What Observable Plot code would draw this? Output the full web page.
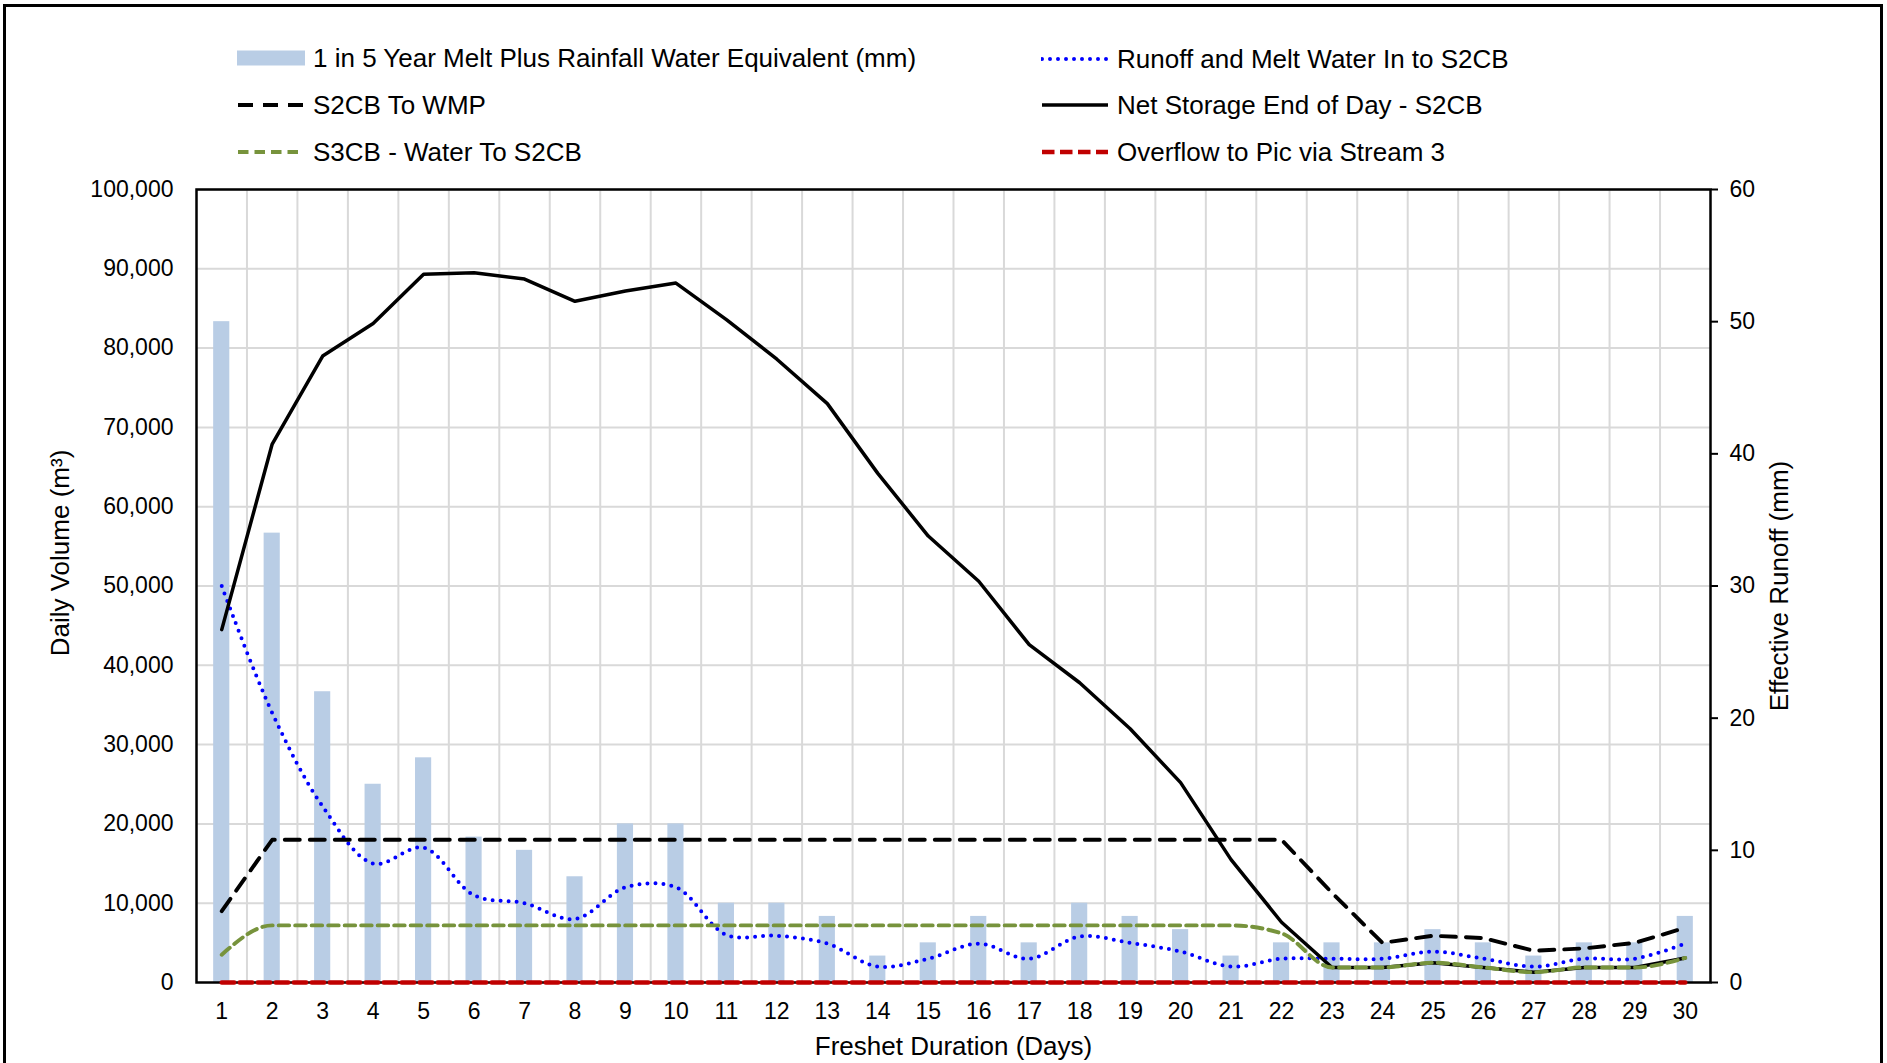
<!DOCTYPE html>
<html>
<head>
<meta charset="utf-8">
<script src="https://cdn.jsdelivr.net/npm/d3@7"></script>
<script src="https://cdn.jsdelivr.net/npm/@observablehq/plot@0.6"></script>
<style>
  body { margin: 0; background: #fff; font-family: "Liberation Sans", Arial, sans-serif; }
  #page { position: relative; width: 1887px; height: 1063px; overflow: hidden; background: #fff; }
  #chart { position: absolute; left: 0; top: 170px; }
  #legend { position: absolute; left: 0; top: 0; width: 1887px; height: 170px; }
  .item { position: absolute; height: 30px; display: flex; align-items: center; font-size: 26px; color: #000; white-space: nowrap; }
  .item svg { display: block; margin-right: 8px; }
  #border { position: absolute; left: 3px; top: 4px; width: 1874px; height: 1100px; border: 3px solid #000; pointer-events: none; }
</style>
</head>
<body>
<div id="page">
  <div id="chart"></div>
  <div id="legend"></div>
  <div id="border"></div>
</div>
<script>
// ---- Data ----
const days = [1,2,3,4,5,6,7,8,9,10,11,12,13,14,15,16,17,18,19,20,21,22,23,24,25,26,27,28,29,30];

// 1 in 5 Year Melt Plus Rainfall Water Equivalent (mm) - right axis
const meltMm = [50,34,22,15,17,11,10,8,12,12,6,6,5,2,3,5,3,6,5,4,2,3,3,3,4,3,2,3,3,5];

// Runoff and Melt Water In to S2CB (m3)
const runoffIn = [50000,34000,22200,15000,17000,11000,10000,8000,12000,12000,6000,5900,4900,2000,3000,4900,3000,5800,5000,3900,2000,3000,3000,3000,3900,3000,2000,3000,3000,4900];

// S2CB To WMP (m3)
const s2cbToWmp = [9000,18000,18000,18000,18000,18000,18000,18000,18000,18000,18000,18000,18000,18000,18000,18000,18000,18000,18000,18000,18000,18000,11300,5000,5900,5600,4000,4300,5000,6900];

// Net Storage End of Day - S2CB (m3)
const netStorage = [44500,67900,79000,83100,89300,89500,88700,85900,87200,88200,83600,78600,73000,64200,56300,50600,42600,37800,32000,25200,15500,7600,1900,1900,2500,1900,1300,1900,1900,3100];

// S3CB - Water To S2CB (m3)
const s3cbToS2cb = [3500,7200,7200,7200,7200,7200,7200,7200,7200,7200,7200,7200,7200,7200,7200,7200,7200,7200,7200,7200,7200,6200,1900,1900,2500,1900,1300,1900,1900,3100];

// Overflow to Pic via Stream 3 (m3)
const overflow = [0,0,0,0,0,0,0,0,0,0,0,0,0,0,0,0,0,0,0,0,0,0,0,0,0,0,0,0,0,0];

const leftTicks = [0,10000,20000,30000,40000,50000,60000,70000,80000,90000,100000];
const rightTicks = [0,10,20,30,40,50,60];

const seriesNames = [
  "1 in 5 Year Melt Plus Rainfall Water Equivalent (mm)",
  "Runoff and Melt Water In to S2CB",
  "S2CB To WMP",
  "Net Storage End of Day - S2CB",
  "S3CB - Water To S2CB",
  "Overflow to Pic via Stream 3"
];
const yLabelLeft = "Daily Volume (m³)";
const yLabelRight = "Effective Runoff (mm)";
const xLabel = "Freshet Duration (Days)";

// ---- Build table ----
const K = leftTicks[leftTicks.length - 1] / rightTicks[rightTicks.length - 1]; // mm -> m3 axis factor
const rows = days.map((d, i) => ({
  day: d, melt: meltMm[i], runoff: runoffIn[i], toWmp: s2cbToWmp[i],
  storage: netStorage[i], s3cb: s3cbToS2cb[i], overflow: overflow[i]
}));

// ---- Styles ----
const S = {
  bar: {fill: "#B9CDE5"},
  runoff: {stroke: "#0000FF", strokeWidth: 4, strokeDasharray: "0,8", strokeLinecap: "round", curve: "catmull-rom"},
  toWmp: {stroke: "#000000", strokeWidth: 3.9, strokeDasharray: "15,10"},
  storage: {stroke: "#000000", strokeWidth: 3.5},
  s3cb: {stroke: "#77933C", strokeWidth: 3.9, strokeDasharray: "10.5,6", curve: "monotone-x"},
  overflow: {stroke: "#C00000", strokeWidth: 4.5, strokeDasharray: "12.5,5.5"}
};

const W = 1887, H = 893, mL = 196, mR = 177, mT = 19, mB = 81;
const step = (W - mL - mR) / days.length;

const chart = Plot.plot({
  width: W, height: H,
  marginLeft: mL, marginRight: mR, marginTop: mT, marginBottom: mB,
  style: {fontFamily: '"Liberation Sans", Arial, sans-serif', fontSize: "23px", color: "#000", background: "transparent", overflow: "visible"},
  x: {type: "band", domain: days, paddingInner: 0.68, paddingOuter: 0.34, align: 0.5, round: false},
  y: {domain: [leftTicks[0], leftTicks[leftTicks.length - 1]]},
  marks: [
    Plot.ruleY(leftTicks.slice(1), {stroke: "#D9D9D9", strokeWidth: 2}),
    Plot.ruleX(days.slice(0, -1), {dx: step / 2, stroke: "#D9D9D9", strokeWidth: 2}),
    Plot.barY(rows, {x: "day", y: d => d.melt * K, ...S.bar}),
    Plot.frame({stroke: "#000", strokeWidth: 2.5}),
    Plot.line(rows, {x: "day", y: "runoff", ...S.runoff}),
    Plot.line(rows, {x: "day", y: "toWmp", ...S.toWmp}),
    Plot.line(rows, {x: "day", y: "storage", ...S.storage}),
    Plot.line(rows, {x: "day", y: "s3cb", ...S.s3cb}),
    Plot.line(rows, {x: "day", y: "overflow", ...S.overflow}),
    Plot.axisX({tickSize: 0, tickPadding: 20, label: null}),
    Plot.axisY({anchor: "left", ticks: leftTicks, tickSize: 0, tickPadding: 23, tickFormat: d3.format(","), label: null}),
    Plot.axisY({anchor: "right", ticks: rightTicks.map(v => v * K), tickSize: 7, tickPadding: 12,
                tickFormat: d => String(Math.round(d / K)), label: null, stroke: "#000", strokeWidth: 2}),
    Plot.text([yLabelLeft], {frameAnchor: "left", dx: -136, dy: -33, rotate: -90, fontSize: 26, textAnchor: "middle", lineAnchor: "middle"}),
    Plot.text([yLabelRight], {frameAnchor: "right", dx: 69, rotate: -90, fontSize: 26, textAnchor: "middle", lineAnchor: "middle"}),
    Plot.text([xLabel], {frameAnchor: "bottom", dy: 64, fontSize: 26, textAnchor: "middle", lineAnchor: "middle"})
  ]
});
document.getElementById("chart").appendChild(chart);

// ---- Legend ----
const legendItems = [
  {name: seriesNames[0], kind: "bar", style: S.bar, left: 237, cy: 58},
  {name: seriesNames[1], kind: "line", style: S.runoff, left: 1041, cy: 59},
  {name: seriesNames[2], kind: "line", style: S.toWmp, left: 237, cy: 105},
  {name: seriesNames[3], kind: "line", style: S.storage, left: 1041, cy: 105},
  {name: seriesNames[4], kind: "line", style: S.s3cb, left: 237, cy: 152},
  {name: seriesNames[5], kind: "line", style: S.overflow, left: 1041, cy: 152}
];
const legend = d3.select("#legend");
for (const it of legendItems) {
  const div = legend.append("div").attr("class", "item")
    .style("left", it.left + "px").style("top", (it.cy - 15) + "px");
  const svg = div.append("svg").attr("width", 68).attr("height", 20);
  if (it.kind === "bar") {
    svg.append("rect").attr("x", 0).attr("y", 2.5).attr("width", 68).attr("height", 15).attr("fill", it.style.fill);
  } else {
    svg.append("line").attr("x1", 1).attr("x2", 67).attr("y1", 10).attr("y2", 10)
      .attr("stroke", it.style.stroke).attr("stroke-width", it.style.strokeWidth)
      .attr("stroke-dasharray", it.style.strokeDasharray || null)
      .attr("stroke-linecap", it.style.strokeLinecap || null);
  }
  div.append("span").text(it.name);
}
</script>
</body>
</html>
